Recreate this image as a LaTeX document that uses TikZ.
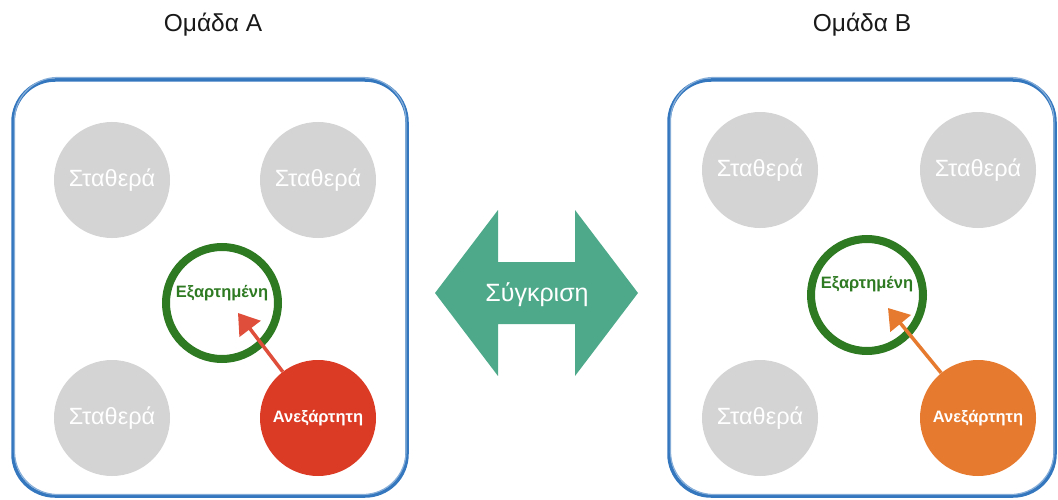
\documentclass[tikz,border=0pt]{standalone}
\usepackage{fontspec}
\setmainfont{Liberation Sans}
\usetikzlibrary{arrows.meta,positioning}
\definecolor{boxblue}{HTML}{3477BE}
\definecolor{fixgray}{HTML}{D4D4D4}
\definecolor{depgreen}{HTML}{2E7A22}
\definecolor{indred}{HTML}{DB3A24}
\definecolor{indorange}{HTML}{E67A2E}
\definecolor{cmpteal}{HTML}{4EA98A}
\tikzset{
  >={Triangle[length=20pt,width=26pt]},
  grp/.style={draw=boxblue, line width=3.5pt, rounded corners=42pt},
  grpsketch/.style={draw=boxblue!60, line width=1.2pt, rounded corners=43pt},
  fixd/.style={circle, fill=fixgray, text=white, minimum size=116pt, inner sep=0pt,
    font=\fontsize{23.5}{26}\selectfont},
  dep/.style={circle, draw=depgreen, line width=8pt, minimum size=112pt, inner sep=0pt},
  deplab/.style={text=depgreen, font=\bfseries\fontsize{16.5}{19}\selectfont},
  ind/.style={circle, minimum size=116pt, inner sep=0pt, text=white,
    font=\bfseries\fontsize{16.5}{19}\selectfont},
  title/.style={font=\fontsize{24.5}{28}\selectfont, text=black!90},
  link/.style={->, line width=3.5pt},
}
\begin{document}
\begin{tikzpicture}[x=1pt, y=-1pt]
  \useasboundingbox (0,0) rectangle (1058,500);
  % group frames
  \draw[grp] (13,80) rectangle (407,496);
  \draw[grpsketch] (14.5,77.5) rectangle (406,494.5);
  \draw[grp] (669,80) rectangle (1055,496);
  \draw[grpsketch] (670.5,77.5) rectangle (1054,494.5);
  \node[title] (ttlA) at (213,25) {Ομάδα A};
  \node[title] (ttlB) at (862,25) {Ομάδα B};
  % constant variables
  \foreach \n/\x/\y in {a1/112/180, a2/318/180, a3/112/418, b1/760/170, b2/978/170, b3/760/418} {
    \node[fixd] (\n) at (\x,\y) {Σταθερά};
  }
  % dependent / independent
  \node[dep, label={[deplab, yshift=10pt]center:Εξαρτημένη}] (depA) at (222,303) {};
  \node[ind, fill=indred] (indA) at (318,418) {Ανεξάρτητη};
  \coordinate (tipA) at (238,313);
  \draw[link, indred!90!white] (indA) -- (tipA);
  \node[dep, label={[deplab, yshift=11pt]center:Εξαρτημένη}] (depB) at (867,295) {};
  \node[ind, fill=indorange] (indB) at (978,418) {Ανεξάρτητη};
  \coordinate (tipB) at (888,308);
  \draw[link, indorange] (indB) -- (tipB);
  % comparison arrow
  \fill[cmpteal] (435,293) -- (498,210) -- (498,262) -- (575,262) -- (575,210) -- (638,293)
    -- (575,376) -- (575,324) -- (498,324) -- (498,376) -- cycle;
  \node[text=white, font=\fontsize{25}{28}\selectfont] (cmp) at (537,295) {Σύγκριση};
\end{tikzpicture}
\end{document}
